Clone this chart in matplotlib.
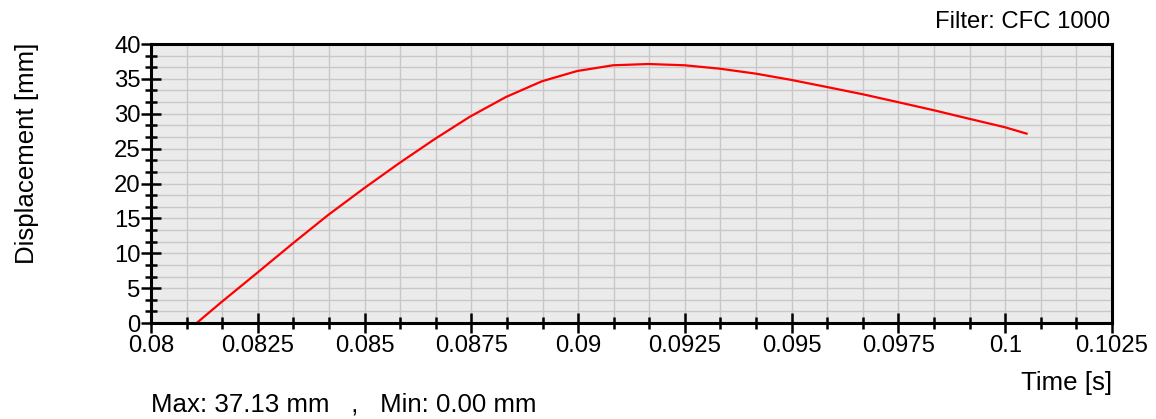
import matplotlib
matplotlib.use("Agg")
import matplotlib.pyplot as plt
from matplotlib.ticker import MultipleLocator, FixedLocator

plt.rcParams['font.family'] = ['Liberation Sans', 'DejaVu Sans']

time_s = [0.08107, 0.08164, 0.08248, 0.08331, 0.08414, 0.08498, 0.08581, 0.08665,
          0.08747, 0.08831, 0.08915, 0.08998, 0.09082, 0.09165, 0.09249, 0.09332,
          0.09416, 0.09500, 0.09582, 0.09666, 0.09750, 0.09833, 0.09917, 0.09999,
          0.10050]
disp_mm = [0.00, 2.95, 7.16, 11.36, 15.45, 19.28, 22.91, 26.40,
           29.59, 32.40, 34.65, 36.13, 36.95, 37.13, 36.95, 36.46,
           35.75, 34.84, 33.84, 32.80, 31.65, 30.50, 29.26, 28.07,
           27.15]
x_ticks = [0.08, 0.0825, 0.085, 0.0875, 0.09, 0.0925, 0.095, 0.0975, 0.1, 0.1025]
x_labels = ["0.08", "0.0825", "0.085", "0.0875", "0.09", "0.0925", "0.095", "0.0975", "0.1", "0.1025"]
y_ticks = [0, 5, 10, 15, 20, 25, 30, 35, 40]

fig = plt.figure(figsize=(11.56, 4.19), dpi=100)
ax = fig.add_axes([151/1156, 1-323/419, (1112-151)/1156, (323-44)/419])
ax.set_facecolor('#ebebeb')
ax.plot(time_s, disp_mm, color='#ff0000', lw=1.6, zorder=3)

ax.set_xlim(0.08, 0.1025)
ax.set_ylim(0, 40)
ax.xaxis.set_major_locator(FixedLocator(x_ticks))
ax.set_xticklabels(x_labels)
ax.xaxis.set_minor_locator(MultipleLocator(0.0025/3))
ax.yaxis.set_major_locator(FixedLocator(y_ticks))
ax.yaxis.set_minor_locator(MultipleLocator(5/3))

ax.grid(True, which='both', color='#c8c8c8', lw=1.0, zorder=0)
ax.set_axisbelow(True)
for s in ax.spines.values():
    s.set_linewidth(2.2)
    s.set_zorder(4)

ax.tick_params(which='major', direction='inout', length=15, width=1.8, labelsize=17.2, colors='black')
ax.tick_params(which='minor', direction='inout', length=8, width=1.8)
ax.tick_params(axis='x', which='major', pad=1)
ax.tick_params(axis='y', which='major', pad=0)

fig.text(1110/1156, 1-21.5/419, "Filter: CFC 1000", ha='right', va='center', fontsize=17.2)
fig.text(1112/1156, 1-383/419, "Time [s]", ha='right', va='center', fontsize=18.6)
fig.text(27/1156, 1-153/419, "Displacement [mm]", ha='center', va='center', rotation=90, fontsize=18.6)
fig.text(151/1156, 1-404/419, "Max: 37.13 mm   ,   Min: 0.00 mm", ha='left', va='center', fontsize=18.6)

fig.savefig("out.png", dpi=100)
